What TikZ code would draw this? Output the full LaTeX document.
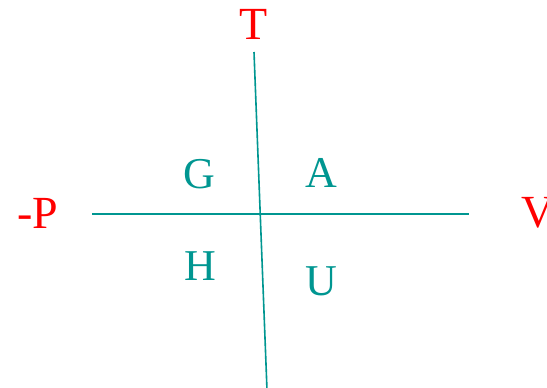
\documentclass[tikz,border=0pt]{standalone}
\usepackage{fontspec}
\setmainfont{Liberation Serif}
\usepackage{tikz}
\usetikzlibrary{positioning}

\definecolor{axisteal}{RGB}{0,150,145}

\begin{document}
\begin{tikzpicture}[
    x=1pt, y=-1pt,
    % Define the style for the axis names
    axisname/.style={
        text=red,
        inner sep=0pt,
        font=\fontsize{46}{46}\selectfont
    },
    % Define the style for the quadrant letters
    quadrant/.style={
        text=axisteal,
        inner sep=0pt,
        font=\fontsize{44}{44}\selectfont
    },
    % Define the style for the axes
    axis/.style={
        draw=axisteal,
        line width=1.6pt
    }
]
    \useasboundingbox (0,0) rectangle (547,388);

    % Place the axis names
    \node [axisname] (tname) at (254,24.5) {T};
    \node [axisname] (pname) at (37.5,213) {-P};
    \node [axisname, anchor=west] (vname) at (521,213) {V};

    % Place the quadrant letters
    \node [quadrant] (gq) at (199,174) {G};
    \node [quadrant] (aq) at (321,173) {A};
    \node [quadrant] (hq) at (200,266) {H};
    \node [quadrant] (uq) at (321,281) {U};

    % Axis ends
    \coordinate (hleft) at (92,214);
    \coordinate (hright) at (469,214);
    \coordinate (vtop) at (254,52);
    \coordinate (vbottom) at (267,390);

    % Draw the axes
    \path [axis] (hleft) -- (hright);
    \path [axis] (vtop) -- (vbottom);

\end{tikzpicture}
\end{document}
